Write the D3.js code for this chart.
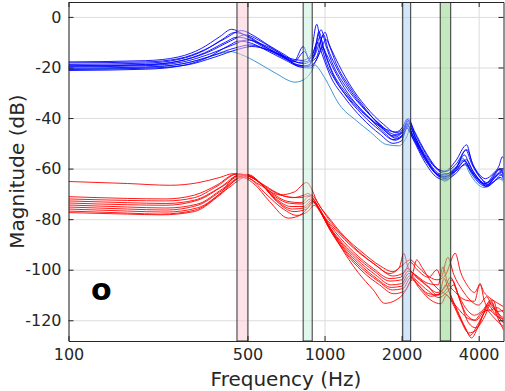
<!DOCTYPE html>
<html><head><meta charset="utf-8">
<script src="https://cdn.jsdelivr.net/npm/d3@7"></script>
<style>body{margin:0;background:#fff}svg{display:block}</style>
</head><body>
<svg id="c" width="505" height="391"></svg>
<script>
// ---------- data ----------
const xTicks = [100, 500, 1000, 2000, 4000];
const yTicks = [0, -20, -40, -60, -80, -100, -120];
const bandLo = [455, 825, 2020, 2830];
const bandHi = [502, 895, 2170, 3110];
const bandFill = ["#fbc8cf", "#c4f0dd", "#a4cdf2", "#8ad47f"];
const panelLabel = "o";

const blueCurves = [
 [[100,-17.8],[200,-17.3],[270,-15.8],[330,-12.5],[390,-7.8],[434,-4.9],[480,-6.8],[550,-10.3],[640,-13.8],[740,-16.5],[820,-17.2],[880,-15.5],[932,-2.9],[965,-10],[1020,-18.5],[1100,-25],[1250,-32.5],[1450,-39],[1700,-44],[1900,-45.5],[2020,-43.5],[2100,-40.5],[2200,-45],[2450,-54],[2750,-60],[2950,-61],[3250,-57],[3590,-50.6],[3750,-57],[4000,-62],[4250,-64],[4550,-62],[4800,-59],[4950,-55.3],[5000,-56]],
 [[100,-18.2],[200,-17.8],[270,-16.5],[340,-13],[410,-8.5],[474,-5.4],[530,-7.5],[600,-11],[700,-15],[790,-18],[860,-17.5],[910,-13],[970,-5.1],[1010,-11],[1080,-19],[1200,-27],[1400,-35.5],[1650,-42.5],[1880,-46.5],[2030,-45],[2130,-41],[2250,-46],[2500,-54.5],[2800,-61],[3000,-62],[3300,-59],[3560,-52.6],[3750,-58],[4050,-63.5],[4300,-65.5],[4600,-62],[4850,-60],[5000,-62.5]],
 [[100,-18.8],[200,-18.3],[270,-16.8],[340,-13.2],[400,-8.8],[445,-6.2],[500,-7.5],[580,-11.5],[680,-15.5],[760,-17.5],[826,-11.7],[870,-16.5],[910,-15],[950,-5.8],[990,-12],[1060,-20.5],[1200,-29.5],[1400,-37],[1650,-43.5],[1850,-47],[2000,-46],[2090,-42],[2200,-46.5],[2450,-55],[2800,-62.5],[2950,-63],[3250,-60],[3520,-54.6],[3700,-59],[4000,-64],[4250,-66],[4600,-63.5],[4900,-61.5],[5000,-63]],
 [[100,-19.3],[200,-18.8],[270,-17.5],[350,-14],[430,-9.5],[490,-7.1],[560,-9.5],[650,-13.5],[760,-17.5],[830,-18.5],[900,-16.5],[960,-10],[1005,-6.1],[1040,-10.5],[1100,-16],[1250,-26.5],[1450,-35.5],[1700,-42.5],[1900,-45.8],[2040,-44],[2120,-40.2],[2240,-45],[2500,-54],[2800,-60.5],[2950,-61.2],[3250,-58.5],[3600,-52.5],[3800,-58.5],[4100,-64],[4350,-66.5],[4650,-63],[4900,-61],[5000,-62]],
 [[100,-19.8],[200,-19.3],[280,-17.8],[360,-14.5],[440,-11],[500,-9.1],[570,-10.8],[660,-14],[760,-17.8],[835,-13.7],[880,-17.5],[930,-16],[990,-7],[1030,-12.5],[1100,-19],[1250,-28.5],[1450,-37],[1700,-44],[1880,-47.5],[2020,-45.5],[2100,-42.5],[2220,-47],[2500,-56],[2800,-62],[2950,-62.5],[3250,-59.5],[3500,-56.6],[3700,-60],[4000,-64.5],[4250,-66.8],[4600,-64],[4850,-62],[5000,-64]],
 [[100,-20.3],[200,-19.8],[280,-18.5],[360,-15.5],[450,-12.2],[510,-11.1],[580,-12.5],[680,-15.5],[780,-19],[860,-19.5],[910,-15.5],[960,-8],[1000,-14],[1070,-22],[1200,-30.5],[1400,-38.5],[1650,-45],[1850,-48.5],[2000,-47.5],[2080,-43.5],[2200,-47.5],[2450,-56],[2750,-62.5],[2950,-64],[3250,-61],[3580,-56.5],[3800,-61],[4100,-65.5],[4300,-67.2],[4650,-64.5],[4900,-62.5],[5000,-63.5]],
 [[100,-20.8],[200,-20.3],[290,-19],[370,-16],[460,-12.8],[520,-11.7],[600,-13],[700,-16],[800,-19.8],[880,-20.2],[950,-15],[1015,-9],[1050,-12],[1110,-18.5],[1250,-27.5],[1450,-36.5],[1700,-44.5],[1900,-48],[2040,-46],[2140,-42],[2260,-47.5],[2500,-56.5],[2800,-63],[2950,-63.5],[3250,-61],[3550,-58.5],[3750,-61.5],[4050,-65],[4300,-66.5],[4600,-63],[4800,-60.5],[5000,-61]],
 [[100,-21.2],[200,-20.7],[280,-19.2],[350,-16],[420,-11.5],[465,-9.5],[520,-10.5],[600,-13.5],[700,-17],[800,-19.5],[870,-19],[940,-10],[980,-15],[1050,-23],[1200,-32],[1400,-40],[1650,-46.5],[1850,-50],[2000,-49],[2100,-44],[2220,-48.5],[2450,-57],[2750,-63.5],[2950,-64.5],[3250,-62],[3560,-58],[3750,-62],[4050,-66],[4250,-67],[4600,-65],[4850,-63.5],[5000,-64.5]],
 [[100,-19.5],[200,-19],[270,-17.5],[340,-14.2],[410,-10],[455,-8],[510,-9],[590,-12.5],[690,-16.2],[790,-19],[870,-19.5],[930,-17],[980,-12],[1020,-15],[1090,-21],[1230,-30],[1430,-38],[1680,-45],[1880,-48.8],[2020,-47],[2110,-43.2],[2230,-48],[2480,-56.5],[2780,-62.5],[2950,-63.2],[3250,-60.5],[3530,-57],[3720,-60.5],[4000,-65],[4200,-66],[4500,-64],[4750,-60.5],[5000,-60]]
];
const lightCurve = [[100,-20.6],[200,-20],[280,-18.5],[350,-16],[400,-14.2],[427,-13.7],[470,-14.8],[550,-18.2],[650,-22.5],[767,-25.8],[840,-24.5],[890,-21.5],[918,-19],[950,-20.5],[1000,-24],[1145,-34.8],[1330,-41],[1510,-45.5],[1750,-50.5],[1950,-51],[2080,-48],[2170,-44],[2280,-49],[2500,-56.5],[2800,-63.5],[2950,-65],[3200,-62],[3470,-55.9],[3650,-61],[3950,-66],[4200,-67.5],[4500,-66],[4800,-64],[5000,-65.2]];

const redCurves = [
 [[100,-65.1],[170,-65.9],[250,-66.6],[320,-65.6],[390,-63.5],[440,-62],[490,-63],[560,-66.5],[670,-70.4],[760,-69.3],[852,-65.5],[885,-67.5],[930,-72.5],[1050,-80],[1200,-87],[1400,-93],[1650,-98.5],[1850,-100.8],[2000,-98.5],[2160,-96.1],[2300,-98.5],[2500,-102],[2750,-104],[2950,-102.5],[3240,-93.5],[3400,-101],[3600,-106],[3850,-109],[4050,-106],[4200,-109],[4400,-111],[4700,-113],[5000,-114.6]],
 [[100,-71.1],[170,-71.8],[240,-72],[310,-70.5],[380,-66.5],[450,-62.2],[500,-62.8],[570,-66],[650,-69.5],[750,-71.5],[830,-70.5],[865,-69.8],[900,-71.5],[960,-76.5],[1100,-84],[1300,-91.5],[1550,-97.5],[1800,-101.5],[1960,-99],[2040,-93.5],[2120,-99],[2300,-102.5],[2550,-105.5],[2780,-106],[2900,-98.8],[3000,-104],[3250,-109],[3550,-112],[3850,-112.5],[4050,-105.4],[4200,-112],[4450,-116],[4700,-115],[5000,-117]],
 [[100,-72],[170,-72.6],[240,-72.8],[310,-71.5],[380,-67],[460,-62],[520,-63.5],[600,-67.8],[700,-71],[800,-71.5],[890,-70.4],[940,-73.5],[1020,-79],[1150,-85.5],[1350,-92.5],[1600,-98.5],[1850,-102.5],[2050,-101],[2160,-97],[2300,-100],[2550,-103],[2750,-100],[2850,-103],[3030,-95.1],[3200,-102],[3450,-108],[3700,-112],[4000,-114],[4300,-110.7],[4500,-114.5],[4750,-116.5],[5000,-116]],
 [[100,-72.8],[170,-73.5],[240,-73.8],[310,-72.5],[390,-67.5],[470,-62.3],[530,-64],[610,-69],[720,-73],[810,-73.5],[870,-71],[910,-72.5],[980,-78],[1100,-85],[1300,-93],[1550,-99.5],[1800,-103.5],[1980,-103],[2100,-99.5],[2250,-102],[2500,-106],[2750,-109],[2950,-107],[3100,-103],[3300,-109],[3550,-115],[3850,-118],[4150,-116],[4400,-113],[4600,-115],[4850,-118],[5000,-119]],
 [[100,-73.6],[170,-74.3],[240,-74.5],[320,-72.5],[400,-67],[480,-62.4],[540,-64.5],[620,-70],[730,-73.7],[820,-74],[880,-72],[925,-74],[1000,-80],[1120,-87],[1320,-94.5],[1560,-100.5],[1800,-104.5],[2000,-104],[2120,-100.5],[2280,-103],[2550,-107],[2750,-110],[2980,-108],[3150,-104],[3350,-111],[3600,-118],[3900,-120],[4200,-116],[4450,-112],[4650,-116],[4900,-120],[5000,-121]],
 [[100,-74.4],[170,-75.2],[240,-75.6],[320,-74],[400,-68],[490,-62.5],[550,-65],[630,-71],[740,-75],[830,-75],[890,-72.5],[930,-74.5],[1010,-81],[1140,-88.5],[1340,-96],[1580,-102],[1820,-106],[2000,-105.5],[2130,-101.5],[2300,-104.5],[2550,-108.5],[2800,-111],[3000,-109],[3200,-106],[3400,-113],[3650,-121],[3900,-123],[4200,-119],[4500,-113],[4700,-118],[4900,-122],[5000,-123.8]],
 [[100,-75.2],[170,-76],[240,-76.4],[320,-74.5],[400,-68.5],[500,-62.3],[560,-65.5],[640,-72],[750,-76],[840,-75.5],[900,-72.8],[945,-75],[1030,-82],[1160,-90],[1360,-97.5],[1600,-103.5],[1820,-107],[2000,-106.5],[2150,-102.5],[2300,-105.5],[2550,-109.5],[2800,-110],[2930,-103.5],[3050,-108],[3300,-116],[3550,-123],[3700,-126],[3950,-122],[4200,-117],[4550,-112],[4750,-117],[5000,-120]],
 [[100,-76],[170,-76.8],[240,-77.2],[320,-75.5],[410,-68.5],[510,-62.8],[570,-66.5],[650,-73],[760,-77],[850,-76],[905,-73.5],[950,-76],[1040,-83.5],[1180,-91.5],[1380,-99],[1620,-104.5],[1840,-108],[2020,-107.5],[2180,-103],[2320,-106],[2600,-110.5],[2850,-109],[2980,-106],[3120,-111],[3350,-118],[3580,-124],[3750,-127],[4000,-122],[4300,-116],[4500,-118],[4800,-121],[5000,-122.5]],
 [[100,-76.8],[170,-77.6],[230,-78],[310,-76.5],[390,-70],[455,-63],[510,-64],[590,-70],[690,-76],[780,-78.5],[860,-77],[910,-74.5],[960,-77],[1060,-85],[1200,-93],[1400,-100.5],[1640,-106],[1860,-109.5],[2050,-108.5],[2200,-104],[2350,-107.5],[2600,-112],[2850,-113.5],[3000,-110],[3150,-113],[3400,-120],[3650,-125],[3900,-124],[4150,-118],[4350,-114],[4600,-117],[5000,-121]],
 [[100,-77.4],[170,-78],[230,-78.3],[310,-77],[390,-70.5],[475,-63.5],[530,-66],[610,-73],[722,-79.6],[800,-78.5],[870,-75],[900,-73],[945,-75.5],[1020,-81],[1145,-90.2],[1350,-101],[1550,-108],[1720,-113.3],[1900,-112],[2050,-109],[2200,-102.5],[2290,-96.1],[2400,-99],[2600,-104.5],[2800,-108],[3000,-110],[3300,-115],[3600,-119],[3850,-120],[4100,-117],[4400,-116],[4650,-118],[5000,-119.5]]
];

// ---------- layout ----------
const L = 68.5, R = 503.5, T = 2, B = 341;
const svg = d3.select("#c");
const x = d3.scaleLog().domain([100, 5000]).range([L, R]);
const y = d3.scaleLinear().domain([-128.2, 5.9]).range([B, T]);
const font = "'DejaVu Sans', sans-serif";
const axisCol = "#262626";

svg.append("defs").append("clipPath").attr("id","clip")
  .append("rect").attr("x",L).attr("y",T).attr("width",R-L).attr("height",B-T);

// grid
const grid = svg.append("g");
grid.append("g").attr("transform",`translate(0,${B})`)
  .call(d3.axisBottom(x).tickValues(xTicks).tickSize(-(B-T)).tickFormat(""))
  .call(g=>{g.select(".domain").remove();g.selectAll("line").attr("stroke","#dcdcdc").attr("stroke-width",1);});
grid.append("g").attr("transform",`translate(${L},0)`)
  .call(d3.axisLeft(y).tickValues(yTicks).tickSize(-(R-L)).tickFormat(""))
  .call(g=>{g.select(".domain").remove();g.selectAll("line").attr("stroke","#dcdcdc").attr("stroke-width",1);});

// curves
const line = d3.line().x(d=>x(d[0])).y(d=>y(d[1])).curve(d3.curveMonotoneX);
const plot = svg.append("g").attr("clip-path","url(#clip)");
plot.selectAll("path.red").data(redCurves).join("path").attr("class","red")
  .attr("d",line).attr("fill","none").attr("stroke","#ff0000").attr("stroke-width",0.9);
plot.append("path").datum(lightCurve).attr("d",line).attr("fill","none")
  .attr("stroke","#2a8bcf").attr("stroke-width",0.9);
plot.selectAll("path.blue").data(blueCurves).join("path").attr("class","blue")
  .attr("d",line).attr("fill","none").attr("stroke","#0000ff").attr("stroke-width",0.9);

// bands
const bands = bandLo.map((lo,i)=>({lo, hi: bandHi[i], c: bandFill[i]}));
plot.selectAll("rect.band").data(bands).join("rect").attr("class","band")
  .attr("x",d=>x(d.lo)).attr("width",d=>x(d.hi)-x(d.lo))
  .attr("y",T).attr("height",B-T)
  .attr("fill",d=>d.c).attr("fill-opacity",0.5)
  .attr("stroke","#111").attr("stroke-width",1).attr("stroke-opacity",0.85);

// axes
function styleAxis(g){
  g.select(".domain").attr("stroke",axisCol);
  g.selectAll(".tick line").attr("stroke",axisCol);
  g.selectAll("text").attr("fill",axisCol).attr("font-family",font).attr("font-size",16);
}
svg.append("g").attr("transform",`translate(0,${B})`)
  .call(d3.axisBottom(x).tickValues(xTicks).tickFormat(d3.format("d")).tickSizeInner(-5).tickSizeOuter(0).tickPadding(8))
  .call(styleAxis);
svg.append("g").attr("transform",`translate(0,${T})`)
  .call(d3.axisTop(x).tickValues(xTicks).tickFormat("").tickSizeInner(-5).tickSizeOuter(0))
  .call(styleAxis);
svg.append("g").attr("transform",`translate(${L},0)`)
  .call(d3.axisLeft(y).tickValues(yTicks).tickFormat(d=>d).tickSizeInner(-5).tickSizeOuter(0).tickPadding(7))
  .call(styleAxis);
svg.append("g").attr("transform",`translate(${R},0)`)
  .call(d3.axisRight(y).tickValues(yTicks).tickFormat("").tickSizeInner(-5).tickSizeOuter(0))
  .call(styleAxis);

// labels
svg.append("text").attr("x",(L+R)/2).attr("y",386).attr("text-anchor","middle")
  .attr("font-family",font).attr("font-size",20).attr("fill",axisCol).text("Frequency (Hz)");
svg.append("text").attr("transform",`translate(24,${(T+B)/2}) rotate(-90)`).attr("text-anchor","middle")
  .attr("font-family",font).attr("font-size",20).attr("fill",axisCol).text("Magnitude (dB)");
svg.append("text").attr("x",91).attr("y",300).attr("font-family",font).attr("font-weight","bold")
  .attr("font-size",30).attr("fill","#000").text(panelLabel);
</script>
</body></html>
